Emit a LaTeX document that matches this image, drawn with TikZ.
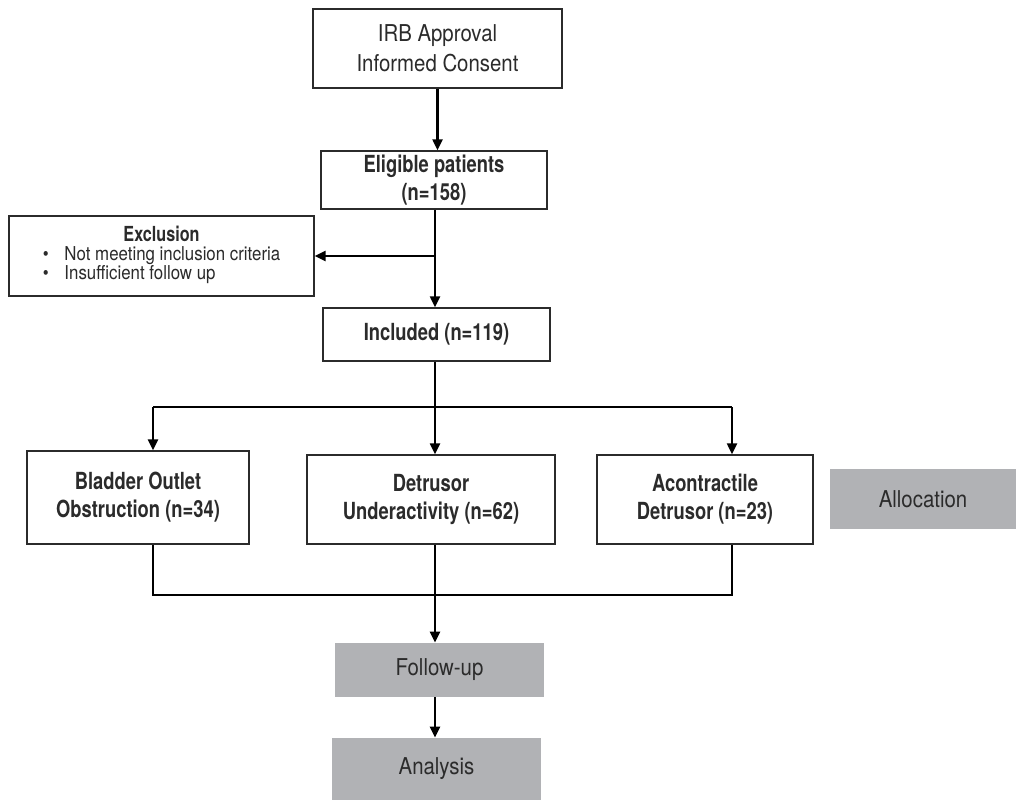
\documentclass[tikz,border=0pt]{standalone}
\usepackage{fontspec}
\setmainfont{TeX Gyre Heros}[UprightFeatures={FakeStretch=0.88},BoldFeatures={FakeStretch=0.78}]
\usetikzlibrary{arrows.meta}
\definecolor{boxgray}{HTML}{B1B2B5}
\definecolor{inkgray}{HTML}{2B2B2B}
\tikzset{
  box/.style={draw=inkgray, line width=0.8pt, fill=white, align=center, text=inkgray, inner sep=2pt},
  greybox/.style={fill=boxgray, align=center, text=inkgray, inner sep=2pt},
  plain/.style={font=\fontsize{13.2}{17}\selectfont},
  heavy/.style={font=\fontsize{13.4}{16}\selectfont\bfseries},
  link/.style={line width=1.3pt, black},
  arr/.style={link, -{Triangle[length=2.2mm,width=2mm]}}
}
\begin{document}
\begin{tikzpicture}[x=0.02cm,y=-0.02cm]
\useasboundingbox (0,0) rectangle (1016,801);
\node[box,plain,minimum width=4.98cm,minimum height=1.58cm] (irb) at (437.5,48.5) {IRB Approval\\Informed Consent};
\node[box,heavy,minimum width=4.52cm,minimum height=1.16cm] (elig) at (434,180) {Eligible patients\\(n=158)};
\node[box,minimum width=6.10cm,minimum height=1.60cm,font=\fontsize{10.9}{12}\selectfont] (excl) at (161.5,256)
  {{\fontsize{11.8}{12}\selectfont\bfseries Exclusion}\\[1pt]
   \begin{tabular}{@{}l@{\hspace{9pt}}l@{}}
   \textbullet & Not meeting inclusion criteria\\[-1pt]
   \textbullet & Insufficient follow up
   \end{tabular}};
\node[box,heavy,minimum width=4.54cm,minimum height=1.06cm] (incl) at (436.5,334.5) {Included (n=119)};
\node[box,heavy,minimum width=4.44cm,minimum height=1.86cm] (boo) at (138,497.5) {Bladder Outlet\\Obstruction (n=34)};
\node[box,heavy,minimum width=4.96cm,minimum height=1.78cm] (dua) at (431,499.5) {Detrusor\\Underactivity (n=62)};
\node[box,heavy,minimum width=4.32cm,minimum height=1.78cm] (acd) at (705,499.5) {Acontractile\\Detrusor (n=23)};
\node[greybox,plain,minimum width=3.72cm,minimum height=1.20cm] (alloc) at (923,499) {Allocation};
\node[greybox,plain,minimum width=4.18cm,minimum height=1.08cm] (fup) at (439.5,670) {Follow-up};
\node[greybox,plain,minimum width=4.18cm,minimum height=1.24cm] (ana) at (436.5,769) {Analysis};

\coordinate (split) at (435,407);
\coordinate (sl) at (153,407);
\coordinate (sr) at (732,407);
\coordinate (join) at (435,595);
\coordinate (jl) at (153,595);
\coordinate (jr) at (732,595);

\draw[arr] (irb.south) -- (irb.south |- elig.north);
\draw[arr] (split |- elig.south) -- (split |- incl.north);
\draw[arr] (split |- excl.east) -- (excl.east);
\draw[link] (split |- incl.south) -- (split);
\draw[link] (sl) -- (sr);
\draw[arr] (sl) -- (sl |- boo.north);
\draw[arr] (split) -- (split |- dua.north);
\draw[arr] (sr) -- (sr |- acd.north);
\draw[link] (sl |- boo.south) -- (jl) -- (jr) -- (sr |- acd.south);
\draw[link] (split |- dua.south) -- (join);
\draw[arr] (join) -- (join |- fup.north);
\draw[arr] (join |- fup.south) -- (join |- ana.north);
\end{tikzpicture}
\end{document}
